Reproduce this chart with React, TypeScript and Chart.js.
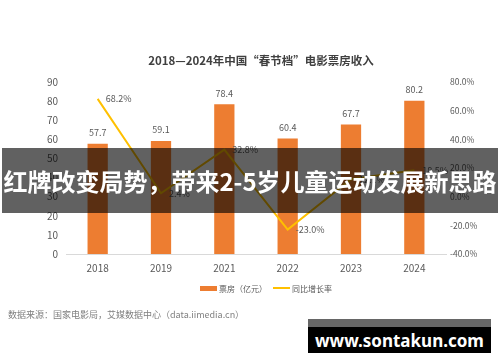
import React, { useEffect, useRef } from "react";
import { Chart, registerables } from "chart.js";

Chart.register(...registerables);

const years = ["2018", "2019", "2021", "2022", "2023", "2024"];
const boxOffice = [57.7, 59.1, 78.4, 60.4, 67.7, 80.2];
const growthRate = [68.2, 2.4, 32.8, -23.0, 12.1, 18.5];
const leftTicks = [0, 10, 20, 30, 40, 50, 60, 70, 80, 90];
const rightTicks = [-40, -20, 0, 20, 40, 60, 80];

const FONT = "'Noto Sans CJK SC', 'Noto Sans', sans-serif";

const labelPlugin = {
  id: "valueLabels",
  afterDatasetsDraw(chart: any) {
    const ctx = chart.ctx;
    ctx.save();
    ctx.fillStyle = "#595959";
    ctx.font = `9px ${FONT}`;
    const barMeta = chart.getDatasetMeta(0);
    barMeta.data.forEach((el: any, i: number) => {
      ctx.textAlign = "center";
      ctx.textBaseline = "middle";
      ctx.fillText(boxOffice[i].toFixed(1), el.x, el.y - 11);
    });
    const lineMeta = chart.getDatasetMeta(1);
    lineMeta.data.forEach((el: any, i: number) => {
      ctx.textAlign = "left";
      ctx.textBaseline = "middle";
      ctx.fillText(growthRate[i].toFixed(1) + "%", el.x + 8, el.y);
    });
    ctx.restore();
  },
};

export default function App() {
  const ref = useRef<HTMLCanvasElement>(null);
  useEffect(() => {
    if (!ref.current) return;
    const chart = new Chart(ref.current, {
      type: "bar",
      data: {
        labels: years,
        datasets: [
          {
            type: "bar",
            label: "票房（亿元）",
            data: boxOffice,
            backgroundColor: "#ED7D31",
            yAxisID: "y",
            barPercentage: 0.32,
            categoryPercentage: 1,
            order: 2,
          },
          {
            type: "line",
            label: "同比增长率",
            data: growthRate,
            borderColor: "#FFC000",
            backgroundColor: "#FFC000",
            borderWidth: 2,
            pointRadius: 0,
            tension: 0,
            yAxisID: "y1",
            order: 1,
          },
        ] as any,
      },
      options: {
        animation: false,
        responsive: false,
        maintainAspectRatio: false,
        layout: { padding: { top: 82, bottom: 0, left: 0, right: 0 } },
        plugins: {
          legend: { display: false },
          title: { display: false },
          tooltip: { enabled: false },
        },
        scales: {
          x: {
            grid: { display: false, drawTicks: false },
            border: { display: true, color: "#D9D9D9", width: 1 },
            ticks: {
              color: "#595959",
              font: { size: 10, family: FONT },
              padding: 8,
            },
            afterFit(scale: any) {
              scale.height = 108;
            },
          },
          y: {
            position: "left",
            min: 0,
            max: 90,
            afterBuildTicks(scale: any) {
              scale.ticks = leftTicks.map((v) => ({ value: v }));
            },
            grid: { display: false, drawTicks: false },
            border: { display: false },
            ticks: {
              color: "#595959",
              font: { size: 10, family: FONT },
              padding: 8,
            },
            afterFit(scale: any) {
              scale.width = 66;
            },
          },
          y1: {
            position: "right",
            min: -40,
            max: 80,
            afterBuildTicks(scale: any) {
              scale.ticks = rightTicks.map((v) => ({ value: v }));
            },
            grid: { display: false, drawTicks: false },
            border: { display: false },
            ticks: {
              color: "#595959",
              font: { size: 8.5, family: FONT },
              padding: 4,
              callback: (v: any) => Number(v).toFixed(1) + "%",
            },
            afterFit(scale: any) {
              scale.width = 54;
            },
          },
        },
      } as any,
      plugins: [labelPlugin],
    });
    return () => chart.destroy();
  }, []);

  return (
    <div
      style={{
        position: "fixed",
        left: 0,
        top: 0,
        width: 500,
        height: 362,
        background: "#fff",
        fontFamily: FONT,
        overflow: "hidden",
      }}
    >
      <canvas ref={ref} width={500} height={362} style={{ position: "absolute", left: 0, top: 0 }} />
      <div
        style={{
          position: "absolute",
          left: 0,
          top: 52,
          width: 522,
          textAlign: "center",
          fontSize: 11.5,
          fontWeight: "bold",
          color: "#404040",
          lineHeight: "17px",
          whiteSpace: "nowrap",
        }}
      >
        2018—2024年中国“春节档”电影票房收入
      </div>
      <div
        style={{
          position: "absolute",
          left: 200,
          top: 281,
          height: 14,
          display: "flex",
          alignItems: "center",
          fontSize: 8,
          color: "#595959",
          whiteSpace: "nowrap",
        }}
      >
        <span style={{ display: "inline-block", width: 17, height: 5, background: "#ED7D31", marginRight: 2 }} />
        <span>票房（亿元）</span>
        <span style={{ display: "inline-block", width: 17, height: 2, background: "#FFC000", marginLeft: 6, marginRight: 2 }} />
        <span>同比增长率</span>
      </div>
      <div
        style={{
          position: "absolute",
          left: 8,
          top: 308,
          fontSize: 9,
          color: "#7F7F7F",
          lineHeight: "14px",
          whiteSpace: "nowrap",
        }}
      >
        数据来源：国家电影局，艾媒数据中心（data.iimedia.cn）
      </div>
      <div
        style={{
          position: "absolute",
          left: 2,
          top: 148,
          width: 496,
          height: 65,
          background: "rgba(0,0,0,0.62)",
        }}
      />
      <div
        style={{
          position: "absolute",
          left: 0,
          top: 148,
          width: 500,
          height: 65,
          display: "flex",
          alignItems: "center",
          justifyContent: "center",
          color: "#fff",
          fontWeight: "bold",
          fontSize: 24,
          whiteSpace: "nowrap",
        }}
      >
        红牌改变局势，带来2-5岁儿童运动发展新思路
      </div>
      <div
        style={{
          position: "absolute",
          left: 308,
          top: 319,
          width: 183,
          height: 34,
          background: "#000",
        }}
      >
        <div style={{ height: 8, background: "#666" }} />
        <div
          style={{
            position: "absolute",
            left: 0,
            top: 8,
            width: 183,
            height: 26,
            display: "flex",
            alignItems: "center",
            justifyContent: "center",
            color: "#fff",
            fontWeight: "bold",
            fontSize: 17,
            fontFamily: "'Noto Sans', 'DejaVu Sans', sans-serif",
            whiteSpace: "nowrap",
          }}
        >
          www.sontakun.com
        </div>
      </div>
    </div>
  );
}
